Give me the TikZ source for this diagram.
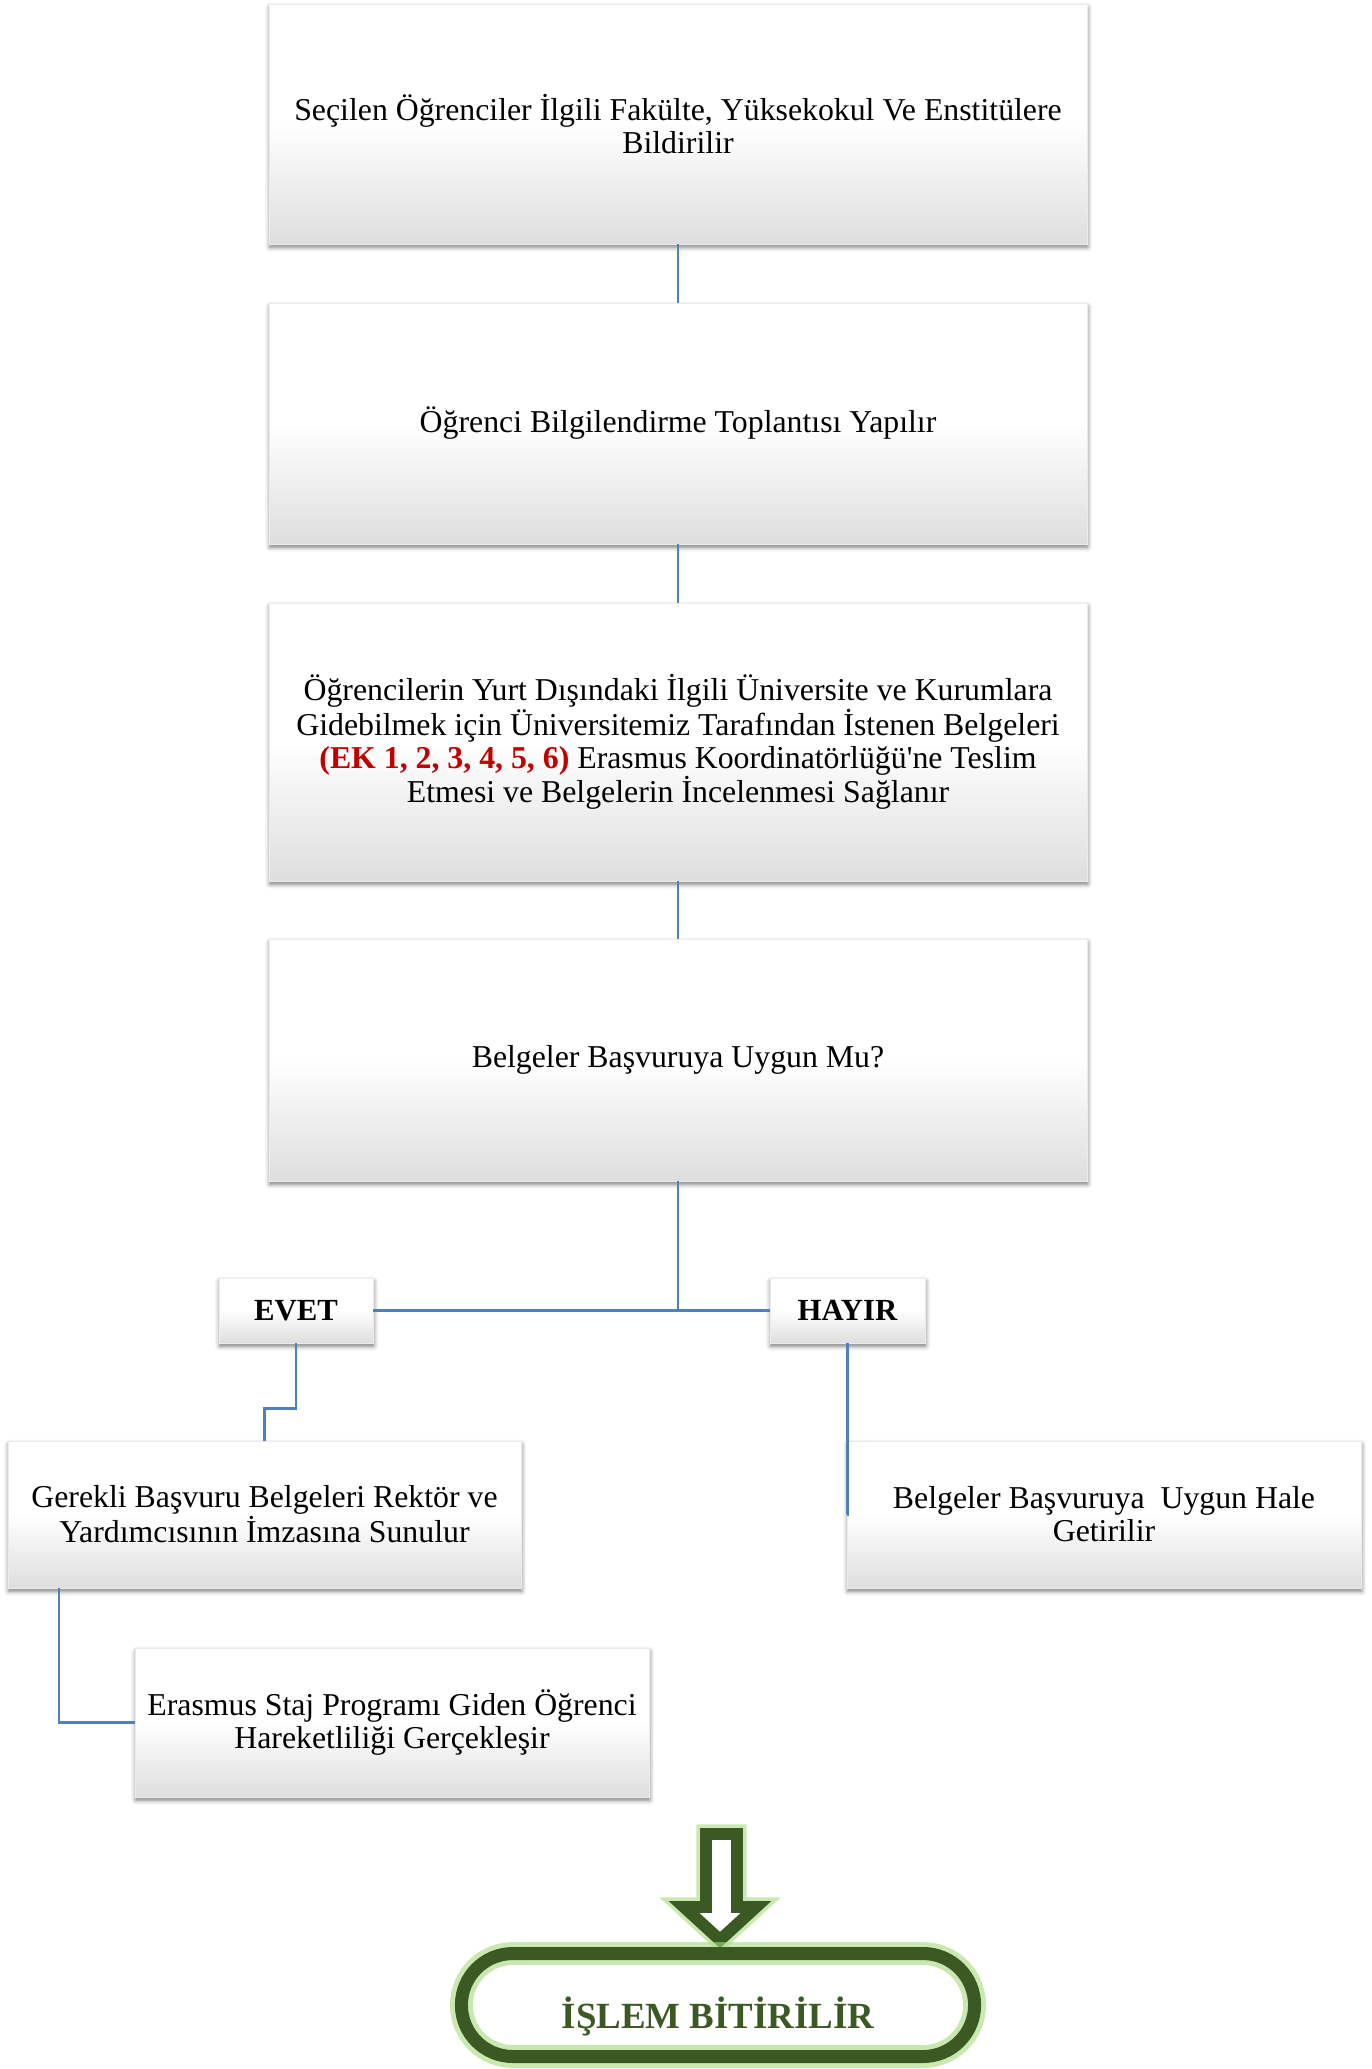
\documentclass[tikz,border=0pt]{standalone}
\usepackage{fontspec}
\setmainfont{Liberation Serif}[Ligatures=TeXOff]
\usetikzlibrary{shadows.blur, shapes.misc, calc}
\definecolor{hatmavi}{RGB}{79,129,189}
\definecolor{koyuyesil}{RGB}{58,89,35}
\definecolor{parilti}{RGB}{165,218,125}
\definecolor{ekkirmizi}{RGB}{192,0,0}

\begin{document}
\begin{tikzpicture}[x=0.02cm, y=-0.02cm,
	kutu/.style={shape=rectangle, draw=black!8, top color=white, bottom color=black!13, middle color=white, blur shadow={shadow xshift=0.4pt, shadow yshift=-1.8pt, shadow blur radius=2.6pt, shadow opacity=55}, align=center, inner sep=4pt, font=\fontsize{18.1}{18.7}\selectfont},
	etiket/.style={kutu, font=\fontsize{17.5}{18.7}\selectfont\bfseries},
	hat/.style={draw=hatmavi, line width=1.3pt},
	sonkutu/.style={rounded rectangle, draw=koyuyesil, line width=7.4pt, minimum width=10.5cm, minimum height=2.06cm, text=koyuyesil, text height=30pt, text depth=3pt, font=\fontsize{21}{24}\selectfont\bfseries, preaction={fill=white, draw=parilti, line width=13pt, draw opacity=0.6}},
	okcizgi/.style={draw=koyuyesil, line width=6.8pt, fill=white, line join=miter, preaction={draw=parilti, line width=11pt, draw opacity=0.6}}]
	\useasboundingbox (0, 0) rectangle (1372, 2069);
	% Steps:
	\node[kutu, minimum width=16.36cm, minimum height=4.8cm] (secim) at (678, 124){Seçilen Öğrenciler İlgili Fakülte, Yüksekokul Ve Enstitülere\\ Bildirilir};
	\node[kutu, minimum width=16.36cm, minimum height=4.82cm] (toplanti) at (678, 423.5){Öğrenci Bilgilendirme Toplantısı Yapılır};
	\node[kutu, minimum width=16.36cm, minimum height=5.56cm] (belge) at (678, 742){Öğrencilerin Yurt Dışındaki İlgili Üniversite ve Kurumlara\\ Gidebilmek için Üniversitemiz Tarafından İstenen Belgeleri\\ \textcolor{ekkirmizi}{\textbf{(EK 1, 2, 3, 4, 5, 6)}} Erasmus Koordinatörlüğü'ne Teslim\\ Etmesi ve Belgelerin İncelenmesi Sağlanır};
	\node[kutu, minimum width=16.36cm, minimum height=4.84cm] (uygun) at (678, 1060){Belgeler Başvuruya Uygun Mu?};
	\node[etiket, minimum width=3.08cm, minimum height=1.3cm] (evet) at (296, 1310.5){EVET};
	\node[etiket, minimum width=3.1cm, minimum height=1.3cm] (hayir) at (847.5, 1310.5){HAYIR};
	\node[kutu, minimum width=10.26cm, minimum height=2.94cm] (gerekli) at (264.5, 1514.5){Gerekli Başvuru Belgeleri Rektör ve\\ Yardımcısının İmzasına Sunulur};
	\node[kutu, minimum width=10.28cm, minimum height=2.94cm] (duzelt) at (1104, 1514.5){Belgeler Başvuruya\ \ Uygun Hale\\ Getirilir};
	\node[kutu, minimum width=10.28cm, minimum height=2.98cm] (staj) at (392, 1722.5){Erasmus Staj Programı Giden Öğrenci\\ Hareketliliği Gerçekleşir};
	% Wires:
	\draw[hat] (secim.south) -- (toplanti.north);
	\draw[hat] (toplanti.south) -- (belge.north);
	\draw[hat] (belge.south) -- (uygun.north);
	\draw[hat] (uygun.south) |- (evet.east);
	\draw[hat] (uygun.south) |- (hayir.west);
	\draw[hat] (evet.south) |- ($(evet.south)!0.67!(gerekli.north)$) -| (gerekli.north);
	\draw[hat] (hayir.south) |- (duzelt.west);
	\draw[hat] ($(gerekli.south west)!0.1!(gerekli.south east)$) |- (staj.west);
	% End:
	\draw[okcizgi] (706, 1834) -- (737, 1834) -- (737, 1907) -- (756, 1907) -- (720, 1940) -- (684, 1907) -- (706, 1907) -- cycle;
	\node[sonkutu] (son) at (718, 2005){İŞLEM BİTİRİLİR};
\end{tikzpicture}
\end{document}
